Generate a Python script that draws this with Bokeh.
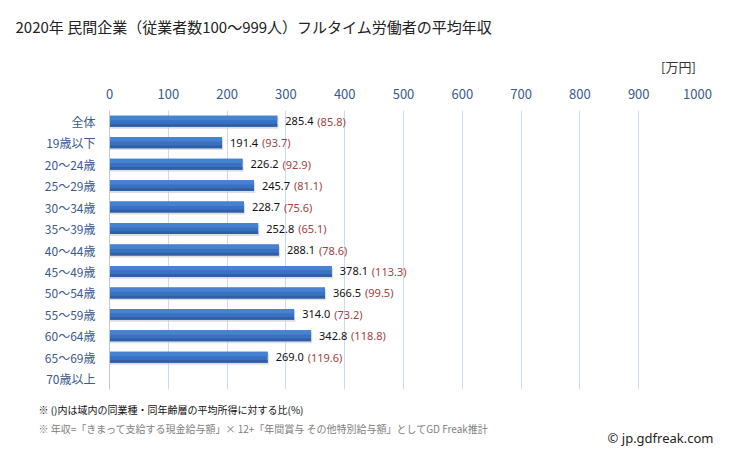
from bokeh.plotting import figure
from bokeh.models import Range1d, FixedTicker, Label, ColumnDataSource
from bokeh.core.properties import value
from bokeh.embed import file_html
from bokeh.resources import INLINE

# ---- data ----
categories = ["全体", "19歳以下", "20～24歳", "25～29歳", "30～34歳", "35～39歳",
              "40～44歳", "45～49歳", "50～54歳", "55～59歳", "60～64歳", "65～69歳", "70歳以上"]
incomes = [285.4, 191.4, 226.2, 245.7, 228.7, 252.8, 288.1, 378.1, 366.5, 314.0, 342.8, 269.0, None]
ratios = [85.8, 93.7, 92.9, 81.1, 75.6, 65.1, 78.6, 113.3, 99.5, 73.2, 118.8, 119.6, None]
x_ticks = [0, 100, 200, 300, 400, 500, 600, 700, 800, 900, 1000]

title_text = "2020年 民間企業（従業者数100～999人）フルタイム労働者の平均年収"
unit_text = "[万円]"
note1 = "※ ()内は域内の同業種・同年齢層の平均所得に対する比(%)"
note2 = "※ 年収=「きまって支給する現金給与額」× 12+「年間賞与 その他特別給与額」としてGD Freak推計"
credit = "© jp.gdfreak.com"

# ---- layout ----
W, H = 729, 451
ML, MR, MT, MB = 109, 32, 110, 62
n = len(categories)

p = figure(width=W, height=H, output_backend="svg", toolbar_location=None,
           x_range=Range1d(0, 1000), y_range=Range1d(n - 0.5, -0.5),
           x_axis_location="above", min_border_left=ML, min_border_right=MR,
           min_border_top=MT, min_border_bottom=MB)
p.outline_line_color = None
p.background_fill_color = "white"
p.border_fill_color = "white"

axis_color = "#3b5a8e"
p.xaxis.ticker = FixedTicker(ticks=x_ticks)
p.xaxis.axis_line_color = None
p.xaxis.major_tick_line_color = None
p.xaxis.minor_tick_line_color = None
p.xaxis.major_tick_out = 0
p.xaxis.major_label_standoff = 12
p.xaxis.major_label_text_font = "Noto Sans CJK JP"
p.xaxis.major_label_text_font_size = "13px"
p.xaxis.major_label_text_color = axis_color

rows = list(range(n))
p.yaxis.ticker = FixedTicker(ticks=rows)
p.yaxis.major_label_overrides = {i: c for i, c in enumerate(categories)}
p.yaxis.axis_line_color = "#c0c8d4"
p.yaxis.major_tick_line_color = None
p.yaxis.minor_tick_line_color = None
p.yaxis.major_tick_out = 0
p.yaxis.major_label_standoff = 14
p.yaxis.major_label_text_font = "Noto Sans CJK JP"
p.yaxis.major_label_text_font_size = "12px"
p.yaxis.major_label_text_color = axis_color

p.xgrid.grid_line_color = "#cbdaf0"
p.ygrid.grid_line_color = None

# ---- bars ----
bh = 0.51
ys, vals, rats = [], [], []
for i, (v, r) in enumerate(zip(incomes, ratios)):
    if v is not None:
        ys.append(i)
        vals.append(v)
        rats.append(r)

src = ColumnDataSource(dict(
    y=ys, v=vals,
    y_sh=[y + 0.09 for y in ys], v_sh=[v + 2 for v in vals],
    y_top=[y - bh / 2 + bh * 0.2 for y in ys],
    y_bot=[y + bh / 2 - bh * 0.125 for y in ys],
    lab=["%.1f" % v for v in vals],
    rlab=["(%.1f)" % r for r in rats],
))

p.hbar(y="y_sh", left=0, right="v_sh", height=bh, source=src,
       fill_color="#c8c8c8", fill_alpha=0.6, line_color=None)
p.hbar(y="y", left=0, right="v", height=bh, source=src,
       fill_color="#3a70c0", line_color=None)
p.hbar(y="y_top", left=0, right="v", height=bh * 0.4, source=src,
       fill_color="#4682d2", line_color=None)
p.hbar(y="y_bot", left=0, right="v", height=bh * 0.25, source=src,
       fill_color="#2f5fa6", line_color=None)

p.text(x="v", y="y", text="lab", source=src, x_offset=8,
       text_baseline="middle", text_align="left",
       text_font=value("Noto Sans"), text_font_size="11px", text_color="#111111")
p.text(x="v", y="y", text="rlab", source=src, x_offset=40,
       text_baseline="middle", text_align="left",
       text_font=value("Noto Sans"), text_font_size="11px", text_color="#a5423f")

# ---- texts (canvas pixel positions, y measured from the top) ----
# placed in side panels so that they are not clipped to the plot frame
def add_text(px, py, txt, align, font, size, color, side):
    p.add_layout(Label(x=px, y=py, x_units="canvas", y_units="canvas",
                       text=txt, text_align=align, text_baseline="middle",
                       text_font=font, text_font_size=size, text_color=color),
                 side)

add_text(15, 26, title_text, "left", "Noto Sans CJK JP", "15px", "#222222", "above")
add_text(678, 66, unit_text, "center", "Noto Sans CJK JP", "13px", "#333333", "above")
add_text(38, 409, note1, "left", "Noto Sans CJK JP", "10px", "#111111", "below")
add_text(38, 428, note2, "left", "Noto Sans CJK JP", "10px", "#808080", "below")
add_text(713, 437, credit, "right", "Noto Sans", "13px", "#222222", "below")

open("out.html", "w").write(file_html(p, INLINE))
